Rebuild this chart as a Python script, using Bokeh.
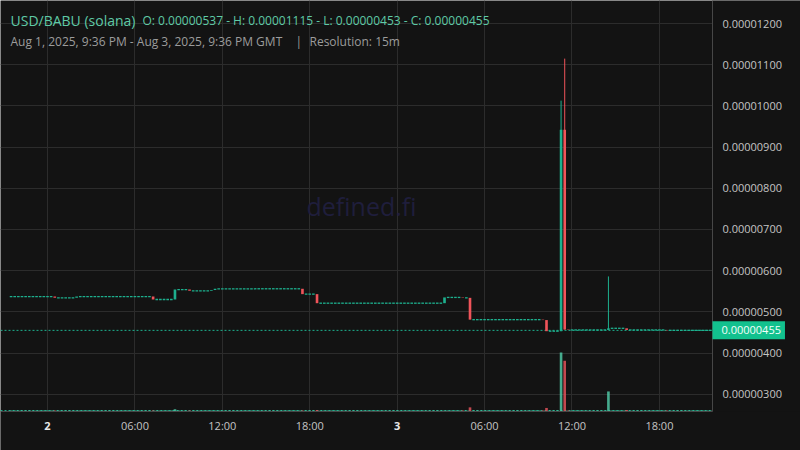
import pandas as pd
from bokeh.plotting import figure
from bokeh.models import (Range1d, FixedTicker, Label, Span, PrintfTickFormatter,
                          ColumnDataSource, BoxAnnotation)
from bokeh.embed import file_html
from bokeh.resources import INLINE

# ---------------- data ----------------
START = "2025-08-01 21:30"       # first 15m candle
FIRST_OPEN_E8 = 537              # prices in units of 1e-8 USD

# closes of each 15m candle (1e-8 USD)
closes_e8 = [
    537, 537,                                   # Aug 1 21:30-21:45
    537, 537, 537, 537, 537, 537, 537, 537,     # Aug 1 22:00-23:45
    537, 537, 534, 534,   # Aug 2 00h
    534, 534, 534, 534,   # 01h
    537, 537, 537, 537,   # 02h
    537, 537, 537, 537,   # 03h
    537, 537, 537, 537,   # 04h
    537, 537, 537, 537,   # 05h
    537, 537, 537, 537,   # 06h
    537, 530, 530, 530,   # 07h
    530, 530, 530, 554,   # 08h
    554, 554, 554, 551,   # 09h
    551, 551, 551, 551,   # 10h
    551, 553, 556, 556,   # 11h
    556, 556, 556, 556,   # 12h
    556, 556, 556, 556,   # 13h
    556, 556, 556, 556,   # 14h
    556, 556, 556, 556,   # 15h
    556, 556, 556, 556,   # 16h
    556, 556, 543, 543,   # 17h
    543, 543, 521, 521,   # 18h
    521, 521, 521, 521,   # 19h
    521, 521, 521, 521,   # 20h
    521, 521, 521, 521,   # 21h
    521, 521, 521, 521,   # 22h
    521, 521, 521, 521,   # 23h
    521, 521, 521, 521,   # Aug 3 00h
    521, 521, 521, 521,   # 01h
    521, 521, 521, 521,   # 02h
    521, 535, 535, 535,   # 03h
    535, 535, 534, 534,   # 04h
    481, 481, 481, 481,   # 05h
    481, 481, 481, 481,   # 06h
    481, 481, 481, 481,   # 07h
    481, 481, 481, 481,   # 08h
    481, 481, 481, 481,   # 09h
    480, 453, 453, 453,   # 10h
    453, 942, 457, 456,   # 11h
    456, 456, 456, 456,   # 12h
    456, 456, 456, 456,   # 13h
    456, 456, 460, 460,   # 14h
    460, 460, 460, 456,   # 15h
    456, 456, 456, 456,   # 16h
    456, 456, 456, 456,   # 17h
    456, 456, 455, 455,   # 18h
    455, 455, 455, 455,   # 19h
    455, 455, 455, 455,   # 20h
    455, 455, 455,        # 21:00-21:30
]

# candles whose wick reaches above the body: index -> high (1e-8 USD)
wick_highs_e8 = {151: 1013, 152: 1115, 164: 586}

# traded volume per candle (relative units)
volumes = [
    1.7, 1.7,
    1.7, 1.7, 1.7, 1.7, 1.7, 1.7, 1.7, 1.7,
    1.7, 1.7, 1.7, 1.7,   # Aug 2 00h
    1.7, 1.7, 1.7, 1.7,   # 01h
    1.7, 1.7, 1.7, 1.7,   # 02h
    1.7, 1.7, 1.7, 1.7,   # 03h
    1.7, 1.7, 1.7, 1.7,   # 04h
    1.7, 1.7, 1.7, 1.7,   # 05h
    1.7, 1.7, 1.7, 1.7,   # 06h
    1.7, 1.7, 1.7, 1.7,   # 07h
    1.7, 1.7, 1.7, 4.0,   # 08h
    1.7, 1.7, 1.7, 1.7,   # 09h
    1.7, 1.7, 1.7, 1.7,   # 10h
    1.7, 1.7, 1.7, 1.7,   # 11h
    1.7, 1.7, 1.7, 1.7,   # 12h
    1.7, 1.7, 1.7, 1.7,   # 13h
    1.7, 1.7, 1.7, 1.7,   # 14h
    1.7, 1.7, 1.7, 1.7,   # 15h
    1.7, 1.7, 1.7, 1.7,   # 16h
    1.7, 1.7, 1.7, 1.7,   # 17h
    1.7, 1.7, 2.5, 1.7,   # 18h
    1.7, 1.7, 1.7, 1.7,   # 19h
    1.7, 1.7, 1.7, 1.7,   # 20h
    1.7, 1.7, 1.7, 1.7,   # 21h
    1.7, 1.7, 1.7, 1.7,   # 22h
    1.7, 1.7, 1.7, 1.7,   # 23h
    1.7, 1.7, 1.7, 1.7,   # Aug 3 00h
    1.7, 1.7, 1.7, 1.7,   # 01h
    1.7, 1.7, 1.7, 1.7,   # 02h
    1.7, 1.7, 1.7, 1.7,   # 03h
    1.7, 1.7, 1.7, 1.7,   # 04h
    7.0, 1.7, 1.7, 1.7,   # 05h
    1.7, 1.7, 1.7, 1.7,   # 06h
    1.7, 1.7, 1.7, 1.7,   # 07h
    1.7, 1.7, 1.7, 1.7,   # 08h
    1.7, 1.7, 1.7, 1.7,   # 09h
    1.7, 6.0, 1.7, 1.7,   # 10h
    1.7, 100.0, 86.0, 1.7,  # 11h
    1.7, 1.7, 1.7, 1.7,   # 12h
    1.7, 1.7, 1.7, 1.7,   # 13h
    1.7, 1.7, 34.0, 1.7,  # 14h
    1.7, 1.7, 1.7, 2.5,   # 15h
    1.7, 1.7, 1.7, 1.7,   # 16h
    1.7, 1.7, 1.7, 1.7,   # 17h
    1.7, 1.7, 1.7, 1.7,   # 18h
    1.7, 1.7, 1.7, 1.7,   # 19h
    1.7, 1.7, 1.7, 1.7,   # 20h
    1.7, 1.7, 1.7,
]

price_ticks = [3e-6, 4e-6, 5e-6, 6e-6, 7e-6, 8e-6, 9e-6, 10e-6, 11e-6, 12e-6]
time_ticks = ["2025-08-02 00:00", "2025-08-02 06:00", "2025-08-02 12:00", "2025-08-02 18:00",
              "2025-08-03 00:00", "2025-08-03 06:00", "2025-08-03 12:00", "2025-08-03 18:00"]
time_tick_labels = ["", "06:00", "12:00", "18:00", "", "06:00", "12:00", "18:00"]
day_labels = [("2025-08-02 00:00", "2"), ("2025-08-03 00:00", "3")]
last_price = 455e-8
last_price_text = "0.00000455"

title_text = "USD/BABU (solana)"
ohlc_text = "O: 0.00000537 - H: 0.00001115 - L: 0.00000453 - C: 0.00000455"
range_text = "Aug 1, 2025, 9:36 PM - Aug 3, 2025, 9:36 PM GMT"
res_text = "Resolution: 15m"

# ---------------- layout constants ----------------
X_START, X_END = pd.Timestamp("2025-08-01 20:46:30"), pd.Timestamp("2025-08-04 03:41:00")
AXIS_TIME = pd.Timestamp("2025-08-03 21:38:30")     # where the price scale sits
Y_START, Y_END = 1.632e-6, 1.2562e-5
AXIS_PRICE = 2.579e-6                              # where the time scale sits
VOL_RANGE = (-66.1, 696.6)

# ---------------- style ----------------
BG = "#131313"
UP = "#1db08e"
DOWN = "#f0545a"
GRID = "#2c2c2c"
FONT = "Open Sans"

def ms(t):
    return pd.Timestamp(t).value // 10**6

# ---------------- derived ----------------
times = pd.date_range(START, periods=len(closes_e8), freq="15min")
opens_e8 = [FIRST_OPEN_E8] + closes_e8[:-1]
o = [v * 1e-8 for v in opens_e8]
c = [v * 1e-8 for v in closes_e8]
hi = [wick_highs_e8.get(i, max(a, b)) * 1e-8 for i, (a, b) in enumerate(zip(opens_e8, closes_e8))]
lo = [min(a, b) * 1e-8 for a, b in zip(opens_e8, closes_e8)]
up = [b >= a for a, b in zip(opens_e8, closes_e8)]
colors = [UP if u else DOWN for u in up]
vcolors = ["#4fc7a3" if u else "#e0525a" for u in up]
bar_w = 15 * 60 * 1000 * 0.72

src = ColumnDataSource(dict(t=times, o=o, c=c, hi=hi, lo=lo,
                            top=[max(a, b) for a, b in zip(o, c)],
                            bot=[min(a, b) for a, b in zip(o, c)],
                            color=colors, vcolor=vcolors, vol=volumes))
flat_idx = [i for i in range(len(o)) if opens_e8[i] == closes_e8[i]]
flat = ColumnDataSource(dict(x0=[times[i] - pd.Timedelta(minutes=5.4) for i in flat_idx],
                             x1=[times[i] + pd.Timedelta(minutes=5.4) for i in flat_idx],
                             y=[c[i] for i in flat_idx]))
wick_idx = [i for i in range(len(o)) if hi[i] > max(o[i], c[i])]
wicks = ColumnDataSource(dict(t=[times[i] for i in wick_idx], hi=[hi[i] for i in wick_idx],
                              lo=[lo[i] for i in wick_idx], color=[colors[i] for i in wick_idx]))

# ---------------- figure ----------------
p = figure(width=800, height=450, x_axis_type="datetime", y_axis_location="right",
           output_backend="svg", toolbar_location=None,
           x_range=Range1d(X_START, X_END), y_range=Range1d(Y_START, Y_END),
           min_border=0, min_border_left=0, min_border_right=0,
           min_border_top=0, min_border_bottom=0,
           background_fill_color=BG, border_fill_color=BG)
p.outline_line_color = None
p.extra_y_ranges = {"vol": Range1d(*VOL_RANGE)}

tick_ms = [ms(t) for t in time_ticks]
xa, ya = p.xaxis[0], p.yaxis[0]
xa.ticker = FixedTicker(ticks=tick_ms)
xa.major_label_overrides = {m: lab for m, lab in zip(tick_ms, time_tick_labels)}
xa.fixed_location = AXIS_PRICE
xa.bounds = (ms(X_START), ms(AXIS_TIME))
ya.ticker = FixedTicker(ticks=price_ticks)
ya.formatter = PrintfTickFormatter(format="%.8f")
ya.fixed_location = ms(AXIS_TIME)
ya.bounds = (AXIS_PRICE, Y_END)
p.xgrid.grid_line_color = GRID
p.ygrid.grid_line_color = GRID

for ax in (xa, ya):
    ax.major_tick_line_color = None
    ax.minor_tick_line_color = None
    ax.major_tick_out = 0
    ax.major_tick_in = 0
    ax.minor_tick_out = 0
    ax.major_label_text_color = "#c4c4c4"
    ax.major_label_text_font = FONT
    ax.axis_line_color = "#474747"
ya.major_label_text_font_size = "11px"
ya.major_label_standoff = 10
xa.major_label_text_font_size = "11px"
xa.major_label_standoff = 6

# watermark
p.add_layout(Label(x=361, y=245, x_units="screen", y_units="screen", text="defined.fi",
                   text_font=FONT, text_font_size="25px", text_color="#1f1e3c",
                   text_align="center", text_baseline="middle", level="underlay"))

# reference lines (under the scale areas)
p.add_layout(Span(location=volumes[-1], dimension="width", y_range_name="vol",
                  line_color=UP, line_dash="2 2", line_width=1, level="underlay"))
p.add_layout(Span(location=last_price, dimension="width", line_color=UP,
                  line_dash="2 2", line_width=1, level="underlay"))

# scale areas keep the plain background
p.add_layout(BoxAnnotation(left=ms(AXIS_TIME), fill_color=BG, fill_alpha=1,
                           line_color=None, level="underlay"))
p.add_layout(BoxAnnotation(top=AXIS_PRICE, fill_color=BG, fill_alpha=1,
                           line_color=None, level="underlay"))

# volume
p.vbar(x="t", width=bar_w, top="vol", bottom=0, source=src, y_range_name="vol",
       fill_color="vcolor", line_color=None, fill_alpha=0.85)

# candles
p.segment(x0="t", x1="t", y0="lo", y1="hi", color="color", line_width=1, source=wicks)
p.vbar(x="t", width=bar_w, top="top", bottom="bot", fill_color="color",
       line_color=None, source=src)
p.segment(x0="x0", x1="x1", y0="y", y1="y", source=flat, line_color=UP, line_width=1.3)

# header
p.add_layout(Label(x=10, y=430, x_units="screen", y_units="screen", text=title_text,
                   text_font=FONT, text_font_size="14px", text_color="#5fcaa6",
                   text_baseline="middle"))
p.add_layout(Label(x=142, y=430, x_units="screen", y_units="screen", text=ohlc_text,
                   text_font=FONT, text_font_size="12px", text_color="#5fcaa6",
                   text_baseline="middle"))
p.add_layout(Label(x=10, y=409, x_units="screen", y_units="screen", text=range_text,
                   text_font=FONT, text_font_size="12px", text_color="#9c9c9c",
                   text_baseline="middle"))
p.add_layout(Label(x=295, y=409, x_units="screen", y_units="screen", text="|",
                   text_font=FONT, text_font_size="12px", text_color="#9c9c9c",
                   text_baseline="middle"))
p.add_layout(Label(x=309, y=409, x_units="screen", y_units="screen", text=res_text,
                   text_font=FONT, text_font_size="12px", text_color="#9c9c9c",
                   text_baseline="middle"))

# day labels (bold)
for t, lab in day_labels:
    p.add_layout(Label(x=ms(t), y=25, x_units="data", y_units="screen",
                       text=lab, text_font=FONT, text_font_size="11px", text_font_style="bold",
                       text_color="#e8e8e8", text_align="center", text_baseline="middle"))

# last price tag
p.add_layout(Label(x=ms(AXIS_TIME), y=last_price, x_units="data", y_units="data",
                   text=last_price_text, text_font=FONT, text_font_size="11px",
                   text_color="#f4fffb", text_baseline="middle",
                   background_fill_color="#12c18e",
                   padding=dict(left=9, right=4, top=5, bottom=5)))

open("out.html", "w").write(file_html(p, INLINE))
